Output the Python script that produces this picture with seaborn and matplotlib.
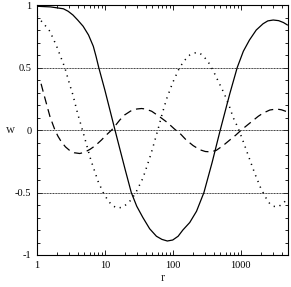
import numpy as np
import seaborn as sns
import matplotlib
matplotlib.use("Agg")
import matplotlib.pyplot as plt
from matplotlib.ticker import FixedLocator, LogLocator, NullFormatter

# values
r_solid = [1, 1.58, 2.45, 2.88, 3.39, 3.98, 4.79, 5.75, 6.76, 7.41, 8.13, 10, 14.1,
           16.6, 20, 24.5, 29.5, 36.3, 45.7, 57.5, 69.2, 83.2, 100, 120, 141, 178,
           224, 288, 380, 501, 692, 891, 1096, 1349, 1698, 2138, 2512, 3020, 3631,
           4266, 4900]
w_solid = [0.99, 0.985, 0.97, 0.95, 0.92, 0.88, 0.83, 0.76, 0.67, 0.59, 0.50, 0.32,
           0.0, -0.15, -0.32, -0.5, -0.61, -0.70, -0.79, -0.85, -0.875, -0.888, -0.88,
           -0.85, -0.80, -0.74, -0.65, -0.5, -0.26, 0.0, 0.29, 0.50, 0.63, 0.72, 0.80,
           0.85, 0.873, 0.88, 0.875, 0.86, 0.84]

r_dot = [1, 1.26, 1.55, 1.95, 2.57, 3.05, 3.39, 3.98, 4.68, 6.22, 7.94, 9.44, 11.0,
         12.6, 15.1, 18.2, 21.9, 25.1, 29.5, 36.3, 41.7, 47.9, 60.3, 70.8, 81.3, 100,
         126, 151, 178, 204, 229, 251, 295, 347, 398, 468, 575, 692, 776, 912, 1072,
         1288, 1622, 1995, 2399, 2692, 3020, 3548, 4169, 4900]
w_dot = [0.91, 0.85, 0.79, 0.67, 0.50, 0.36, 0.28, 0.13, 0.0, -0.24, -0.41, -0.50,
         -0.56, -0.60, -0.625, -0.618, -0.586, -0.55, -0.486, -0.386, -0.29, -0.19,
         0.0, 0.14, 0.25, 0.38, 0.50, 0.56, 0.60, 0.615, 0.62, 0.615, 0.58, 0.53,
         0.47, 0.39, 0.29, 0.18, 0.10, 0.02, -0.08, -0.20, -0.35, -0.47, -0.55,
         -0.59, -0.61, -0.615, -0.59, -0.55]

r_dash = [1.15, 1.23, 1.38, 1.55, 1.70, 1.84, 2.04, 2.29, 2.63, 3.05, 3.55, 4.27,
          5.01, 6.03, 7.24, 8.91, 10.5, 12.6, 14.5, 16.6, 19.5, 24.0, 29.5, 34.7,
          39.8, 49.0, 64.6, 83.2, 105, 132, 158, 200, 251, 302, 363, 437, 550, 692,
          851, 1023, 1259, 1514, 1820, 2138, 2692, 3350, 3981, 4900]
w_dash = [0.37, 0.31, 0.21, 0.11, 0.05, 0.0, -0.05, -0.095, -0.135, -0.165, -0.182,
          -0.188, -0.178, -0.155, -0.125, -0.08, -0.04, 0.0, 0.04, 0.08, 0.12, 0.152,
          0.168, 0.172, 0.168, 0.15, 0.105, 0.06, 0.01, -0.035, -0.08, -0.125,
          -0.158, -0.172, -0.175, -0.163, -0.125, -0.08, -0.04, 0.0, 0.04, 0.075,
          0.11, 0.135, 0.16, 0.168, 0.162, 0.145]

grid_levels = [0.5, 0.0, -0.5]
y_ticks = [-1, -0.5, 0, 0.5, 1]
y_labels = ['-1', '-0.5', '0', '0.5', '1']
x_ticks = [1, 10, 100, 1000]
x_labels = ['1', '10', '100', '1000']

sns.set_style("ticks")
plt.rcParams['font.family'] = ['Liberation Serif', 'DejaVu Serif']

fig = plt.figure(figsize=(2.91, 2.87), dpi=100)
ax = fig.add_axes([0.127, 0.1115, 0.863, 0.871])

for lvl in grid_levels:
    ax.axhline(lvl, color='#333333', linewidth=0.7, linestyle=(0, (1, 0.6)), zorder=1)

sns.lineplot(x=r_solid, y=w_solid, ax=ax, color='black', linewidth=0.9, sort=False)
sns.lineplot(x=r_dot, y=w_dot, ax=ax, color='black', linewidth=1.1,
             linestyle=(0, (0.8, 3.2)), sort=False)
sns.lineplot(x=r_dash, y=w_dash, ax=ax, color='black', linewidth=0.9,
             linestyle=(0, (6.5, 4)), sort=False)

ax.set_xscale('log')
ax.set_xlim(1, 5000)
ax.set_ylim(-1, 1)
ax.xaxis.set_major_locator(FixedLocator(x_ticks))
ax.set_xticklabels(x_labels)
ax.xaxis.set_minor_locator(LogLocator(base=10, subs=np.arange(2, 10)))
ax.xaxis.set_minor_formatter(NullFormatter())
ax.set_yticks(y_ticks)
ax.set_yticklabels(y_labels)
ax.yaxis.set_minor_locator(FixedLocator(np.round(np.arange(-1, 1.01, 0.1), 2)))

ax.tick_params(which='both', direction='in', top=True, right=True, labelsize=7.5,
               width=0.6, colors='black', pad=4)
ax.tick_params(which='major', length=3.5)
ax.tick_params(which='minor', length=2)
for s in ax.spines.values():
    s.set_linewidth(0.8)
    s.set_color('black')

ax.set_xlabel('r', fontsize=9, labelpad=2)
ax.set_ylabel('w', fontsize=9, rotation=0, ha='center', va='center')
ax.yaxis.set_label_coords(-0.105, 0.5)

fig.savefig('out.png', dpi=100)
